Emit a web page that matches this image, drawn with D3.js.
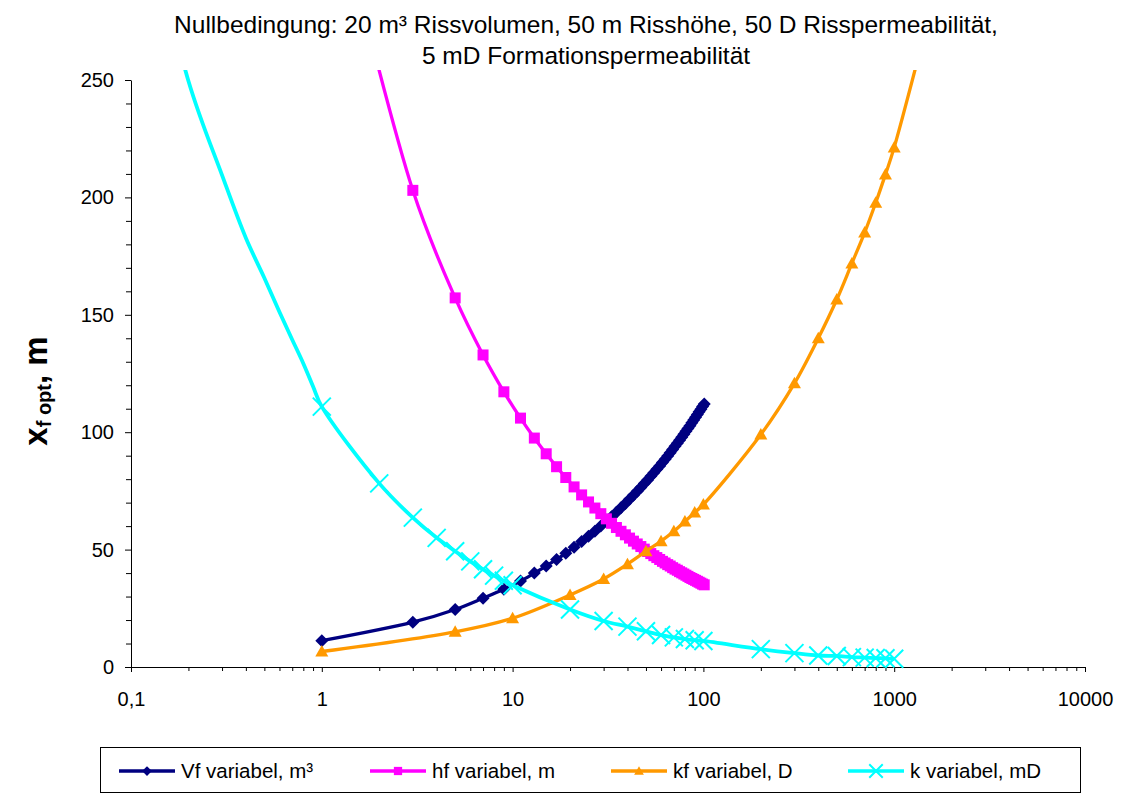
<!DOCTYPE html>
<html>
<head>
<meta charset="utf-8">
<script src="https://cdn.jsdelivr.net/npm/d3@7/dist/d3.min.js"></script>
<style>
  body { margin: 0; background: #fff; }
  svg { font-family: "Liberation Sans", Arial, sans-serif; }
</style>
</head>
<body>
<div id="chart"></div>
<script>
// title lines
var titleLines = [
    "Nullbedingung: 20 m³ Rissvolumen, 50 m Risshöhe, 50 D Risspermeabilität,",
    "5 mD Formationspermeabilität"
];

// x ticks (log axis) and y ticks
var xMajor = [0.1, 1, 10, 100, 1000, 10000];
var yMajor = [0, 50, 100, 150, 200, 250];

// Vf variabel, m³
var vfX = [1, 3, 5, 7, 9, 11, 13, 15, 17, 19, 21, 23, 25, 27, 29, 31, 33, 35, 37, 39, 41, 43, 45, 47, 49,
    51, 53, 55, 57, 59, 61, 63, 65, 67, 69, 71, 73, 75, 77, 79, 81, 83, 85, 87, 89, 91, 93, 95, 97, 99, 101];
var vfY = [11.2, 19.1, 24.5, 29.3, 33.1, 36.6, 40.0, 43.0, 45.8, 48.4, 51.0, 53.4, 55.7, 57.8, 60.0, 62.0, 64.0, 65.9, 67.8, 69.6,
    71.4, 73.1, 74.8, 76.4, 78.1, 79.6, 81.2, 82.7, 84.2, 85.6, 87.1, 88.5, 89.9, 91.3, 92.6, 94.0, 95.3, 96.6, 97.8, 99.1,
    100.4, 101.6, 102.8, 104.0, 105.2, 106.4, 107.5, 108.7, 109.8, 110.9, 112.0];

// hf variabel, m
var hfX = [1, 3, 5, 7, 9, 11, 13, 15, 17, 19, 21, 23, 25, 27, 29, 31, 33, 35, 37, 39, 41, 43, 45, 47, 49,
    51, 53, 55, 57, 59, 61, 63, 65, 67, 69, 71, 73, 75, 77, 79, 81, 83, 85, 87, 89, 91, 93, 95, 97, 99, 101];
var hfY = [351.6, 203.0, 157.2, 132.9, 117.2, 106.0, 97.5, 90.8, 85.3, 80.7, 76.7, 73.3, 70.3, 67.7, 65.3, 63.1, 61.2,
    59.4, 57.8, 56.3, 54.9, 53.6, 52.4, 51.3, 50.2, 49.2, 48.3, 47.4, 46.6, 45.8, 45.0, 44.3, 43.6, 43.0, 42.3, 41.7,
    41.2, 40.6, 40.1, 39.6, 39.1, 38.6, 38.1, 37.7, 37.3, 36.9, 36.5, 36.1, 35.7, 35.3, 35.0];

// kf variabel, D
var kfX = [1, 5, 10, 20, 30, 40, 50, 60, 70, 80, 90, 100, 200, 300, 400, 500, 600, 700, 800, 900, 1000, 2000];
var kfY = [6.6, 15.0, 20.8, 30.7, 37.5, 43.8, 49.3, 53.6, 57.8, 62.0, 65.8, 69.2, 99.0, 120.8, 140.0, 156.5, 171.9,
    185.0, 197.7, 209.8, 221.3, 315.0];

// k variabel, mD (markers)
var kX = [1, 2, 3, 4, 5, 6, 7, 8, 9, 10, 20, 30, 40, 50, 60, 70, 80, 90, 100,
    200, 300, 400, 500, 600, 700, 800, 900, 1000];
var kY = [110.9, 78.2, 63.6, 55.0, 49.3, 45.0, 41.6, 38.9, 36.7, 34.8, 24.5, 19.6, 17.2, 15.2, 13.6, 12.6, 11.9, 11.4, 11.1,
    7.6, 5.9, 4.9, 4.7, 4.2, 4.0, 3.8, 3.7, 3.5];
// k variabel, mD (line only, below 1 mD)
var kLineX = [0.1, 0.2, 0.3, 0.4, 0.5, 0.6, 0.7, 0.8, 0.9];
var kLineY = [350, 249.6, 209.5, 182.7, 165.7, 151.2, 139.4, 129.3, 119.5];

var legendNames = ["Vf variabel, m³", "hf variabel, m", "kf variabel, D", "k variabel, mD"];

var width = 1125, height = 796;
var plotL = 131, plotR = 1085, plotT = 80, plotB = 667;

var svg = d3.select("#chart").append("svg")
    .attr("width", width)
    .attr("height", height);

var x = d3.scaleLog().domain([0.1, 10000]).range([plotL, plotR]);
var y = d3.scaleLinear().domain([0, 250]).range([plotB, plotT]);

function pairs(xs, ys) {
    return xs.map(function(d, i) { return {x: d, y: ys[i]}; });
}

var series = [
    {name: legendNames[0], color: "#000080", marker: "diamond", line: pairs(vfX, vfY), pts: pairs(vfX, vfY)},
    {name: legendNames[1], color: "#ff00ff", marker: "square", line: pairs(hfX, hfY), pts: pairs(hfX, hfY)},
    {name: legendNames[2], color: "#ff9900", marker: "triangle", line: pairs(kfX, kfY), pts: pairs(kfX, kfY)},
    {name: legendNames[3], color: "#00ffff", marker: "cross", line: pairs(kLineX, kLineY).concat(pairs(kX, kY)), pts: pairs(kX, kY)}
];

// title
svg.selectAll(".title")
    .data(titleLines)
    .enter().append("text")
    .attr("class", "title")
    .attr("x", 586)
    .attr("y", function(d, i) { return 33 + i * 31; })
    .attr("text-anchor", "middle")
    .attr("font-size", "24.5px")
    .attr("fill", "#000")
    .text(function(d) { return d; });

// axes
var minorX = [];
[0.1, 1, 10, 100, 1000].forEach(function(d) {
    for (var m = 2; m <= 9; m++) minorX.push(d * m);
});
var minorY = d3.range(0, 251, 10).filter(function(d) { return d % 50 !== 0; });

svg.append("g")
    .attr("transform", "translate(0," + plotB + ")")
    .call(d3.axisBottom(x).tickValues(minorX).tickFormat("").tickSize(4).tickSizeOuter(0))
    .call(function(g) { g.select(".domain").remove(); });

var xa = svg.append("g")
    .attr("transform", "translate(0," + plotB + ")")
    .call(d3.axisBottom(x).tickValues(xMajor)
        .tickFormat(function(d) { return String(d).replace(".", ","); })
        .tickSize(5).tickSizeOuter(0).tickPadding(20));

svg.append("g")
    .attr("transform", "translate(" + plotL + ",0)")
    .call(d3.axisLeft(y).tickValues(minorY).tickFormat("").tickSize(5).tickSizeOuter(0))
    .call(function(g) { g.select(".domain").remove(); });

var ya = svg.append("g")
    .attr("transform", "translate(" + plotL + ",0)")
    .call(d3.axisLeft(y).tickValues(yMajor).tickSize(6).tickSizeOuter(0).tickPadding(11));

[xa, ya].forEach(function(g) {
    g.selectAll("text").attr("font-size", "20px").attr("font-family", "Liberation Sans, Arial, sans-serif").attr("fill", "#000");
    g.selectAll("line").attr("stroke", "#000");
    g.select(".domain").attr("stroke", "#000");
});

// y axis title
var yt = svg.append("text")
    .attr("transform", "translate(47,391) rotate(-90)")
    .attr("text-anchor", "middle")
    .attr("font-weight", "bold")
    .attr("font-size", "33px")
    .attr("fill", "#000");
yt.append("tspan").text("x");
yt.append("tspan").attr("font-size", "20px").attr("dy", 4).text("f opt");
yt.append("tspan").attr("dy", -4).text(", m");

// clip for the curves
svg.append("clipPath").attr("id", "plotclip")
    .append("rect")
    .attr("x", plotL).attr("y", 70)
    .attr("width", plotR - plotL).attr("height", plotB - 70 + 12);

var line = d3.line()
    .x(function(d) { return x(d.x); })
    .y(function(d) { return y(d.y); })
    .curve(d3.curveCatmullRom.alpha(0.5));

function drawMarker(g, type, color, k) {
    if (type === "diamond") {
        g.append("path").attr("d", "M0,-6.5L6.5,0L0,6.5L-6.5,0Z").attr("fill", color);
    } else if (type === "square") {
        g.append("rect").attr("x", -5.5).attr("y", -5.5).attr("width", 11).attr("height", 11).attr("fill", color);
    } else if (type === "triangle") {
        g.append("path").attr("d", "M0,-6.5L6.5,5L-6.5,5Z").attr("fill", color);
    } else {
        g.append("path").attr("d", "M-9,-9L9,9M-9,9L9,-9").attr("stroke", color).attr("stroke-width", 2 / k).attr("fill", "none");
    }
    g.attr("transform", (g.attr("transform") || "") + " scale(" + k + ")");
}

var plot = svg.append("g").attr("clip-path", "url(#plotclip)");

series.forEach(function(s) {
    var g = plot.append("g");
    g.append("path")
        .datum(s.line)
        .attr("fill", "none")
        .attr("stroke", s.color)
        .attr("stroke-width", s.marker === "cross" ? 3.8 : 3.3)
        .attr("d", line);
    g.selectAll(".mk")
        .data(s.pts)
        .enter().append("g")
        .attr("class", "mk")
        .attr("transform", function(d) { return "translate(" + x(d.x) + "," + y(d.y) + ")"; })
        .each(function() { drawMarker(d3.select(this), s.marker, s.color, 1); });
});

// legend
svg.append("rect")
    .attr("x", 100.5).attr("y", 747.5)
    .attr("width", 980).attr("height", 45)
    .attr("fill", "#fff")
    .attr("stroke", "#000")
    .attr("stroke-width", 1);

var legendX = [119, 370, 611, 848];
series.forEach(function(s, i) {
    var g = svg.append("g").attr("transform", "translate(" + legendX[i] + ",771)");
    g.append("line").attr("x1", 0).attr("x2", 56).attr("y1", 0).attr("y2", 0)
        .attr("stroke", s.color).attr("stroke-width", 3.3);
    var m = g.append("g").attr("transform", "translate(28,0)");
    drawMarker(m, s.marker, s.color, 0.75);
    g.append("text")
        .attr("x", 62).attr("y", 7)
        .attr("font-size", "20.5px")
        .attr("fill", "#000")
        .text(s.name);
});
</script>
</body>
</html>
